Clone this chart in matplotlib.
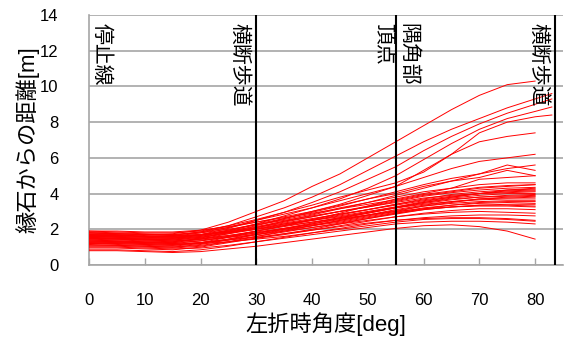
import numpy as np
import matplotlib
matplotlib.use("Agg")
import matplotlib.pyplot as plt

plt.rcParams['font.family'] = ['Liberation Sans', 'Noto Sans CJK JP', 'DejaVu Sans']

nan = np.nan

# turning angle [deg] at which each trajectory is sampled
angles = [0, 5, 10, 15, 20, 25, 30, 35, 40, 45, 50, 55, 60, 65, 70, 75, 80, 83]

# distance from the curb [m] for each vehicle
upper_paths = [
    [1.80, 1.75, 1.70, 1.75, 1.95, 2.40, 3.00, 3.60, 4.40, 5.10, 6.00, 6.90, 7.80, 8.70, 9.50, 10.10, 10.30, nan],
    [1.70, 1.70, 1.60, 1.65, 1.85, 2.20, 2.70, 3.20, 3.80, 4.50, 5.30, 6.10, 6.90, 7.60, 8.20, 8.80, 9.30, 9.60],
    [1.60, 1.55, 1.50, 1.50, 1.70, 2.05, 2.50, 2.95, 3.50, 4.10, 4.80, 5.50, 6.40, 7.20, 7.90, 8.50, 9.00, 9.30],
    [1.50, 1.45, 1.40, 1.45, 1.60, 1.90, 2.30, 2.75, 3.20, 3.70, 4.30, 5.00, 5.90, 6.80, 7.60, 8.20, 8.60, 8.85],
    [1.90, 1.85, 1.80, 1.80, 1.90, 2.20, 2.55, 2.95, 3.35, 3.80, 4.20, 4.60, 5.20, 6.20, 7.40, 8.00, 8.30, 8.40],
    [1.40, 1.35, 1.30, 1.30, 1.50, 1.85, 2.20, 2.60, 3.00, 3.40, 3.90, 4.40, 5.30, 6.20, 6.90, 7.20, 7.40, nan],
]

middle_paths = [
    [1.70, 1.65, 1.60, 1.60, 1.80, 2.10, 2.50, 2.85, 3.20, 3.60, 4.00, 4.40, 4.90, 5.40, 5.80, 6.00, 6.20, nan],
    [1.30, 1.30, 1.25, 1.25, 1.45, 1.75, 2.10, 2.45, 2.80, 3.15, 3.50, 3.90, 4.30, 4.70, 5.10, 5.40, 5.60, nan],
    [1.60, 1.55, 1.50, 1.50, 1.65, 1.95, 2.30, 2.60, 2.95, 3.30, 3.70, 4.10, 4.50, 4.85, 5.10, 5.60, 5.30, nan],
    [1.80, 1.75, 1.70, 1.70, 1.85, 2.10, 2.40, 2.70, 3.00, 3.35, 3.70, 4.00, 4.40, 4.70, 4.90, 5.30, 5.00, nan],
    [1.20, 1.20, 1.15, 1.10, 1.25, 1.55, 1.90, 2.20, 2.55, 2.90, 3.30, 3.70, 4.00, 4.30, 4.80, 4.90, 5.00, nan],
    [1.65, 1.60, 1.55, 1.55, 1.70, 1.95, 2.25, 2.55, 2.85, 3.20, 3.50, 3.80, 4.10, 4.30, 4.50, 4.60, 4.60, nan],
    [1.50, 1.50, 1.45, 1.40, 1.55, 1.80, 2.10, 2.40, 2.70, 3.00, 3.30, 3.60, 3.90, 4.10, 4.30, 4.40, 4.50, nan],
    [1.75, 1.70, 1.65, 1.60, 1.70, 1.90, 2.15, 2.45, 2.70, 3.00, 3.25, 3.55, 3.85, 4.05, 4.20, 4.30, 4.35, nan],
    [1.35, 1.30, 1.25, 1.20, 1.35, 1.60, 1.90, 2.20, 2.50, 2.80, 3.10, 3.40, 3.70, 3.95, 4.10, 4.20, 4.25, nan],
    [1.55, 1.50, 1.45, 1.45, 1.55, 1.75, 2.00, 2.30, 2.55, 2.85, 3.10, 3.40, 3.65, 3.85, 4.00, 4.10, 4.15, nan],
    [1.85, 1.80, 1.75, 1.70, 1.80, 2.00, 2.25, 2.50, 2.75, 3.00, 3.25, 3.50, 3.75, 3.90, 4.00, 4.05, 4.10, nan],
    [1.10, 1.10, 1.05, 1.00, 1.15, 1.40, 1.70, 2.00, 2.30, 2.60, 2.90, 3.20, 3.50, 3.75, 3.90, 4.00, 4.00, nan],
    [1.45, 1.40, 1.35, 1.30, 1.45, 1.65, 1.90, 2.15, 2.40, 2.65, 2.90, 3.20, 3.45, 3.65, 3.80, 3.90, 3.95, nan],
    [1.60, 1.60, 1.55, 1.50, 1.60, 1.80, 2.00, 2.25, 2.50, 2.75, 3.00, 3.25, 3.50, 3.70, 3.80, 3.85, 3.90, nan],
    [1.25, 1.20, 1.15, 1.10, 1.25, 1.45, 1.70, 1.95, 2.20, 2.50, 2.80, 3.10, 3.35, 3.55, 3.70, 3.75, 3.80, nan],
    [1.70, 1.65, 1.60, 1.60, 1.70, 1.85, 2.05, 2.30, 2.50, 2.70, 2.95, 3.20, 3.40, 3.55, 3.65, 3.70, 3.70, nan],
    [1.40, 1.35, 1.30, 1.25, 1.35, 1.55, 1.80, 2.05, 2.30, 2.55, 2.80, 3.05, 3.30, 3.45, 3.55, 3.60, 3.60, nan],
    [0.95, 0.95, 0.90, 0.85, 1.00, 1.25, 1.50, 1.75, 2.00, 2.30, 2.60, 2.90, 3.15, 3.35, 3.50, 3.55, 3.55, nan],
    [1.55, 1.50, 1.45, 1.40, 1.50, 1.65, 1.85, 2.05, 2.25, 2.45, 2.70, 2.95, 3.20, 3.35, 3.45, 3.50, 3.45, nan],
    [1.30, 1.25, 1.20, 1.15, 1.25, 1.40, 1.60, 1.85, 2.10, 2.35, 2.60, 2.85, 3.10, 3.25, 3.35, 3.35, 3.30, nan],
    [1.80, 1.75, 1.70, 1.65, 1.70, 1.85, 2.00, 2.20, 2.40, 2.60, 2.80, 3.00, 3.15, 3.25, 3.30, 3.30, 3.25, nan],
    [1.90, 1.90, 1.85, 1.85, 1.95, 2.15, 2.40, 2.65, 2.90, 3.15, 3.40, 3.65, 3.95, 4.15, 4.35, 4.45, 4.50, nan],
    [1.05, 1.05, 1.00, 0.95, 1.05, 1.30, 1.60, 1.90, 2.20, 2.50, 2.75, 3.00, 3.30, 3.50, 3.70, 3.80, 3.85, nan],
    [1.65, 1.65, 1.60, 1.55, 1.65, 1.85, 2.10, 2.35, 2.60, 2.85, 3.10, 3.35, 3.60, 3.80, 4.00, 4.15, 4.20, nan],
    [1.20, 1.15, 1.10, 1.05, 1.20, 1.45, 1.75, 2.05, 2.35, 2.65, 2.95, 3.25, 3.55, 3.80, 4.00, 4.20, 4.30, nan],
    [1.45, 1.45, 1.40, 1.35, 1.45, 1.60, 1.80, 2.00, 2.20, 2.40, 2.65, 2.90, 3.10, 3.25, 3.35, 3.40, 3.40, nan],
]

lower_paths = [
    [1.15, 1.10, 1.05, 1.00, 1.10, 1.30, 1.50, 1.70, 1.95, 2.20, 2.45, 2.70, 2.90, 3.05, 3.15, 3.15, 3.10, nan],
    [1.50, 1.45, 1.40, 1.35, 1.40, 1.55, 1.70, 1.90, 2.10, 2.30, 2.50, 2.70, 2.85, 2.95, 3.00, 2.95, 2.90, nan],
    [0.85, 0.85, 0.80, 0.75, 0.85, 1.05, 1.30, 1.55, 1.80, 2.05, 2.30, 2.50, 2.65, 2.75, 2.80, 2.80, 2.75, nan],
    [1.35, 1.30, 1.25, 1.20, 1.25, 1.40, 1.55, 1.75, 1.95, 2.15, 2.35, 2.50, 2.60, 2.65, 2.65, 2.60, 2.50, nan],
    [1.00, 1.00, 0.95, 0.90, 0.95, 1.10, 1.30, 1.50, 1.70, 1.90, 2.10, 2.30, 2.40, 2.45, 2.45, 2.40, 2.30, nan],
    [0.80, 0.80, 0.75, 0.70, 0.75, 0.90, 1.05, 1.25, 1.45, 1.65, 1.85, 2.05, 2.20, 2.25, 2.15, 1.90, 1.45, nan],
    [1.25, 1.25, 1.20, 1.15, 1.20, 1.30, 1.45, 1.60, 1.80, 2.00, 2.20, 2.40, 2.55, 2.60, 2.60, 2.55, 2.45, nan],
]

# reference positions along the turn
boundary_angles = [30, 55, 83.5]
marker_labels = ["停止線", "横断歩道", "頂点", "隅角部", "横断歩道"]
marker_x = [2.2, 27.1, 52.7, 57.2, 80.6]

x_ticks = [0, 10, 20, 30, 40, 50, 60, 70, 80]
y_ticks = [0, 2, 4, 6, 8, 10, 12, 14]

fig = plt.figure(figsize=(5.64, 3.45), dpi=100)
ax = fig.add_axes([0.1578, 0.2319, 0.8404, 0.7246])

for path in upper_paths + middle_paths + lower_paths:
    ax.plot(angles, path, color='#ff0000', linewidth=0.7, zorder=3)

for xb in boundary_angles:
    ax.axvline(xb, color='black', linewidth=1.5, zorder=4)

for lbl, xm in zip(marker_labels, marker_x):
    ax.text(xm, 13.55, lbl, rotation=-90, ha='center', va='top',
            fontsize=15, family=['Noto Sans CJK JP'], zorder=5)

ax.set_xlim(0, 85)
ax.set_ylim(0, 14)
ax.set_xticks(x_ticks)
ax.set_yticks(y_ticks)
ax.yaxis.grid(True, color='#a6a6a6', linewidth=1.2, zorder=1)
ax.set_axisbelow(True)

for side in ['top', 'right']:
    ax.spines[side].set_visible(False)
for side in ['left', 'bottom']:
    ax.spines[side].set_color('#a6a6a6')
    ax.spines[side].set_linewidth(1.2)

ax.tick_params(axis='x', direction='in', length=5, width=1, color='#a6a6a6',
               labelsize=12, pad=20)
ax.tick_params(axis='y', length=0, labelsize=12, pad=22)

ax.set_xlabel("左折時角度[deg]", fontsize=16, labelpad=3)
ax.set_ylabel("縁石からの距離[m]", fontsize=16, labelpad=0)

fig.savefig("out.png", dpi=100)
